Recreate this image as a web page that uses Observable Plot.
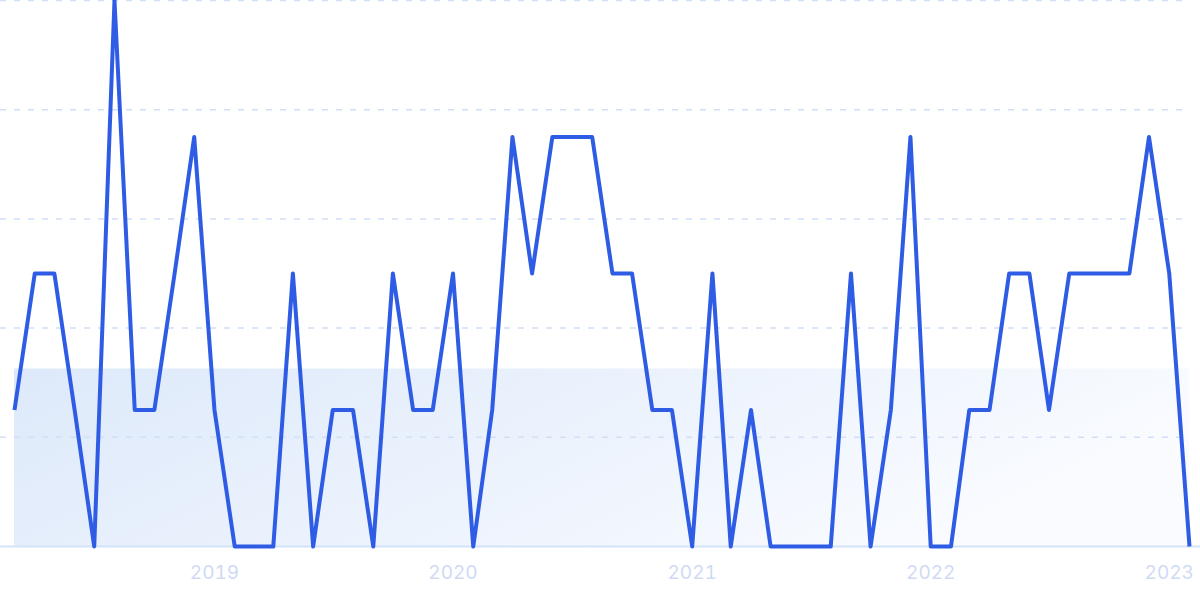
<!DOCTYPE html>
<html>
<head>
<meta charset="utf-8">
<script src="https://cdn.jsdelivr.net/npm/d3@7"></script>
<script src="https://cdn.jsdelivr.net/npm/@observablehq/plot@0.6"></script>
<style>
  html, body { margin: 0; padding: 0; background: #ffffff; }
  #chart svg { display: block; }
</style>
</head>
<body>
<div id="chart"></div>
<script>
// Monthly interest values, March 2018 – February 2023
const startYear = 2018;
const startMonth = 2; // March (0-based)
const values = [
  25, 50, 50, 25, 0, 100, 25, 25, 50, 75,
  25, 0, 0, 0, 50, 0, 25, 25, 0, 50,
  25, 25, 50, 0, 25, 75, 50, 75, 75, 75,
  50, 50, 25, 25, 0, 50, 0, 25, 0, 0,
  0, 0, 50, 0, 25, 75, 0, 0, 25, 25,
  50, 50, 25, 50, 50, 50, 50, 75, 50, 0
];
const yearTicks = [2019, 2020, 2021, 2022, 2023];
const gridValues = [20, 40, 60, 80, 100];

const data = values.map((v, i) => ({
  date: new Date(Date.UTC(startYear, startMonth + i, 1)),
  value: v
}));
const avg = d3.mean(values);
const bandData = data.map(d => ({date: d.date, value: avg}));
const tickDates = yearTicks.map(y => new Date(Date.UTC(y, 0, 1)));

const chart = Plot.plot({
  width: 1200,
  height: 599,
  marginLeft: 14,
  marginRight: 11,
  marginTop: 0,
  marginBottom: 53,
  style: {fontFamily: "Inter, 'Noto Sans', sans-serif", background: "#ffffff", overflow: "hidden"},
  x: {
    type: "utc",
    domain: [data[0].date, data[data.length - 1].date],
    label: null
  },
  y: {domain: [0, 100], axis: null},
  marks: [
    Plot.areaY(bandData, {x: "date", y: "value", fill: "url(#bandGrad)"}),
    Plot.ruleY(gridValues, {stroke: "#cfe0f8", strokeWidth: 1.5, strokeDasharray: "6,8", insetLeft: -14, insetRight: 4}),
    Plot.ruleY([0], {stroke: "#d3e4fa", strokeWidth: 2, insetLeft: -14, insetRight: -11}),
    Plot.lineY(data, {x: "date", y: "value", stroke: "#2f5ce4", strokeWidth: 4, strokeLinejoin: "round", strokeLinecap: "butt"}),
    Plot.axisX({ticks: tickDates, tickFormat: d3.utcFormat("%Y"), tickSize: 0, tickPadding: 19, fontSize: 19, color: "#d0daf5", label: null})
  ]
});

// gradient definition for the average band
const ns = "http://www.w3.org/2000/svg";
const defs = document.createElementNS(ns, "defs");
const grad = document.createElementNS(ns, "linearGradient");
grad.setAttribute("id", "bandGrad");
grad.setAttribute("x1", "0"); grad.setAttribute("y1", "0");
grad.setAttribute("x2", "1"); grad.setAttribute("y2", "0.3");
[["0", "#dde9fa"], ["1", "#f9fbff"]].forEach(([o, c]) => {
  const s = document.createElementNS(ns, "stop");
  s.setAttribute("offset", o);
  s.setAttribute("stop-color", c);
  grad.appendChild(s);
});
defs.appendChild(grad);
chart.insertBefore(defs, chart.firstChild);

document.getElementById("chart").appendChild(chart);
</script>
</body>
</html>
